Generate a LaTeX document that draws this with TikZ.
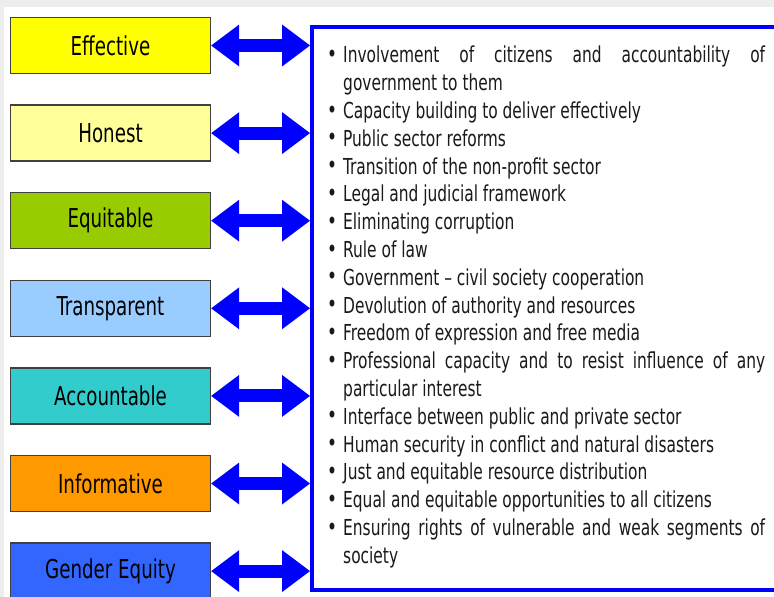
\documentclass[tikz,border=0pt]{standalone}
\usepackage{fontspec}
\usetikzlibrary{arrows.meta}
\newfontfamily\bodyfont[FakeStretch=0.78]{DejaVu Sans Condensed}
\definecolor{cEff}{HTML}{FFFF00}
\definecolor{cHon}{HTML}{FFFF99}
\definecolor{cEqu}{HTML}{99CC00}
\definecolor{cTra}{HTML}{99CCFF}
\definecolor{cAcc}{HTML}{33CCCC}
\definecolor{cInf}{HTML}{FF9900}
\definecolor{cGen}{HTML}{3366FF}
\definecolor{boxline}{HTML}{404040}
\definecolor{txt}{HTML}{1A1A1A}
\definecolor{pureblue}{HTML}{0000FF}
\newcommand\itm{\makebox[17pt][l]{\hspace*{1pt}\raisebox{0.5pt}{\fontsize{24}{24}\selectfont •}}}
\newcommand\cont{\hspace*{17pt}}
\tikzset{
  qual/.style={draw=boxline, line width=1.4pt, minimum width=200pt, minimum height=56pt,
    inner sep=0pt, font=\bodyfont\fontsize{26}{30}\selectfont, text=black},
  dblarrow/.style={pureblue, line width=13pt,
    {Triangle[length=28pt,width=42pt,line width=0pt]}-{Triangle[length=28pt,width=42pt,line width=0pt]}},
  bigbox/.style={draw=pureblue, line width=4pt, minimum width=478pt, minimum height=563pt, inner sep=0pt}
}
\begin{document}
\begin{tikzpicture}[x=1pt,y=-1pt]
\useasboundingbox (0,0) rectangle (774,597);
\clip (0,0) rectangle (774,597);
\fill[black!7] (0,0) rectangle (774,597);
\fill[white] (4,7) rectangle (774,597);
\node[bigbox] (big) at (551,308.5) {};
\node[qual, fill=cEff] (q1) at (110.5,45.5) {Effective};
\node[qual, fill=cHon] (q2) at (110.5,133.1) {Honest};
\node[qual, fill=cEqu] (q3) at (110.5,220.7) {Equitable};
\node[qual, fill=cTra] (q4) at (110.5,308.3) {Transparent};
\node[qual, fill=cAcc] (q5) at (110.5,395.9) {Accountable};
\node[qual, fill=cInf] (q6) at (110.5,483.5) {Informative};
\node[qual, fill=cGen] (q7) at (110.5,571.1) {Gender Equity};
\foreach \i in {1,...,7}{
  \draw[dblarrow] (q\i.east) -- (big.west |- q\i.east);
}
\node[anchor=north west, inner sep=0pt, align=left, text=txt,
  font=\bodyfont\fontsize{22}{27.8}\selectfont] (list) at (326,46) {%
\itm\makebox[422pt][s]{Involvement of citizens and accountability of}\\
\cont government to them\\
\itm Capacity building to deliver effectively\\
\itm Public sector reforms\\
\itm Transition of the non-profit sector\\
\itm Legal and judicial framework\\
\itm Eliminating corruption\\
\itm Rule of law\\
\itm Government – civil society cooperation\\
\itm Devolution of authority and resources\\
\itm Freedom of expression and free media\\
\itm\makebox[422pt][s]{Professional capacity and to resist influence of any}\\
\cont particular interest\\
\itm Interface between public and private sector\\
\itm Human security in conflict and natural disasters\\
\itm Just and equitable resource distribution\\
\itm Equal and equitable opportunities to all citizens\\
\itm\makebox[422pt][s]{Ensuring rights of vulnerable and weak segments of}\\
\cont society};
\end{tikzpicture}
\end{document}
